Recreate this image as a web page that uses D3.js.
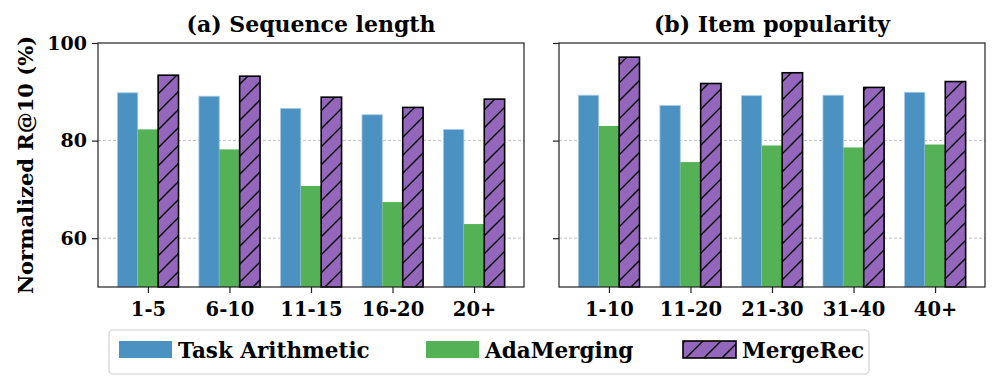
<!DOCTYPE html>
<html>
<head>
<meta charset="utf-8">
<script src="https://cdn.jsdelivr.net/npm/d3@7"></script>
<style>
  body { margin: 0; background: #fff; }
  svg text { font-family: "DejaVu Serif", "Liberation Serif", serif; font-weight: bold; fill: #000; }
</style>
</head>
<body>
<div id="chart"></div>
<script>
    // data
    var seriesNames = ["Task Arithmetic", "AdaMerging", "MergeRec"];
    var seqCats = ["1-5", "6-10", "11-15", "16-20", "20+"];
    var popCats = ["1-10", "11-20", "21-30", "31-40", "40+"];
    var seqTask = [89.8, 89.1, 86.6, 85.3, 82.3];
    var seqAda = [82.3, 78.2, 70.7, 67.4, 62.9];
    var seqMerge = [93.4, 93.2, 88.9, 86.8, 88.5];
    var popTask = [89.3, 87.2, 89.2, 89.3, 89.9];
    var popAda = [83.0, 75.6, 79.0, 78.6, 79.2];
    var popMerge = [97.1, 91.7, 93.9, 90.9, 92.1];
    var yTicks = [60, 80, 100];

    var colors = ["#4b92c3", "#55b155", "#9467bd"];

    var W = 997, H = 388;
    var plotTop = 43, plotBottom = 287;
    var panels = [
        { title: "(a) Sequence length", cats: seqCats, vals: [seqTask, seqAda, seqMerge], x0: 98, x1: 524, labels: true },
        { title: "(b) Item popularity", cats: popCats, vals: [popTask, popAda, popMerge], x0: 559, x1: 985, labels: false }
    ];

    var svg = d3.select("#chart").append("svg")
        .attr("width", W)
        .attr("height", H);

    var defs = svg.append("defs");
    var pat = defs.append("pattern")
        .attr("id", "hatch")
        .attr("patternUnits", "userSpaceOnUse")
        .attr("width", 18)
        .attr("height", 18);
    pat.append("rect").attr("width", 18).attr("height", 18).attr("fill", colors[2]);
    pat.append("path")
        .attr("d", "M-2,20 L20,-2 M-2,2 L2,-2 M16,20 L20,16")
        .attr("stroke", "#000")
        .attr("stroke-width", 1.4);

    var y = d3.scaleLinear().domain([50, 100]).range([plotBottom, plotTop]);
    var bw = 0.25;

    panels.forEach(function(p) {
        var x = d3.scaleLinear().domain([-0.6125, 4.6125]).range([p.x0, p.x1]);
        var g = svg.append("g");

        // grid
        g.selectAll(".grid")
            .data([60, 80])
            .enter().append("line")
            .attr("x1", p.x0).attr("x2", p.x1)
            .attr("y1", function(d) { return y(d); })
            .attr("y2", function(d) { return y(d); })
            .attr("stroke", "#b0b0b0")
            .attr("stroke-width", 0.8)
            .attr("stroke-dasharray", "3,2");

        p.vals.forEach(function(vals, s) {
            g.selectAll(".bar" + s)
                .data(vals)
                .enter().append("rect")
                .attr("x", function(d, i) { return x(i + (s - 1) * bw - bw / 2); })
                .attr("width", x(bw) - x(0))
                .attr("y", function(d) { return y(d); })
                .attr("height", function(d) { return y(50) - y(d); })
                .attr("fill", s == 2 ? "url(#hatch)" : colors[s])
                .attr("stroke", s == 2 ? "#000" : (s == 0 ? "#a9cbe4" : "none"))
                .attr("stroke-width", s == 2 ? 1.6 : 0.8);
        });

        // frame
        g.append("rect")
            .attr("x", p.x0).attr("y", plotTop)
            .attr("width", p.x1 - p.x0).attr("height", plotBottom - plotTop)
            .attr("fill", "none")
            .attr("stroke", "#222")
            .attr("stroke-width", 1.2);

        var xAxis = d3.axisBottom(x)
            .tickValues(d3.range(p.cats.length))
            .tickFormat(function(d) { return p.cats[d]; })
            .tickSize(6)
            .tickPadding(6);
        var xg = g.append("g")
            .attr("transform", "translate(0," + plotBottom + ")")
            .call(xAxis);
        xg.select(".domain").remove();
        xg.selectAll("line").attr("stroke", "#222").attr("stroke-width", 1.2);
        xg.selectAll("text").attr("font-size", 19.5).attr("font-family", null).attr("dy", "0.85em");

        var yAxis = d3.axisLeft(y)
            .tickValues(yTicks)
            .tickSize(6)
            .tickPadding(5)
            .tickFormat(p.labels ? d3.format("d") : "");
        var yg = g.append("g")
            .attr("transform", "translate(" + p.x0 + ",0)")
            .call(yAxis);
        yg.select(".domain").remove();
        yg.selectAll("line").attr("stroke", "#222").attr("stroke-width", 1.2);
        yg.selectAll("text").attr("font-size", 19).attr("font-family", null);

        g.append("text")
            .attr("x", (p.x0 + p.x1) / 2)
            .attr("y", 32)
            .attr("text-anchor", "middle")
            .attr("font-size", 22)
            .text(p.title);
    });

    svg.append("text")
        .attr("transform", "translate(33," + (plotTop + plotBottom) / 2 + ") rotate(-90)")
        .attr("text-anchor", "middle")
        .attr("font-size", 21)
        .text("Normalized R@10 (%)");

    // legend
    var leg = svg.append("g");
    leg.append("rect")
        .attr("x", 109).attr("y", 330)
        .attr("width", 760).attr("height", 44)
        .attr("rx", 4)
        .attr("fill", "#fff")
        .attr("stroke", "#d0d0d0")
        .attr("stroke-width", 1.2);
    var legX = [119, 426, 683];
    seriesNames.forEach(function(n, i) {
        leg.append("rect")
            .attr("x", legX[i]).attr("y", 341)
            .attr("width", 53).attr("height", 17)
            .attr("fill", i == 2 ? "url(#hatch)" : colors[i])
            .attr("stroke", i == 2 ? "#000" : "none")
            .attr("stroke-width", 1.6);
        leg.append("text")
            .attr("x", legX[i] + 59)
            .attr("y", 358)
            .attr("font-size", 21.5)
            .text(n);
    });
</script>
</body>
</html>
